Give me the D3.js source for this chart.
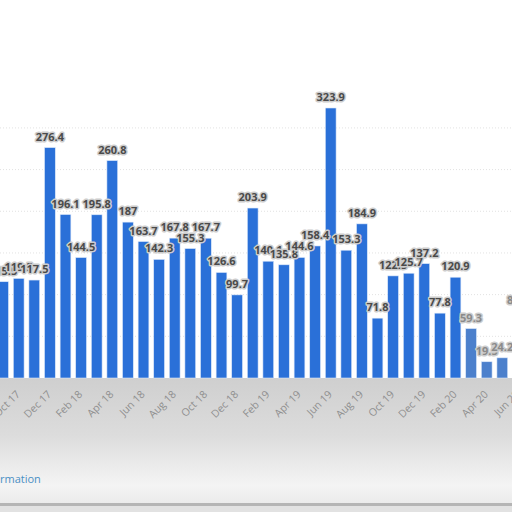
<!DOCTYPE html>
<html lang="en">
<head>
  <meta charset="UTF-8">
  <title>Monthly bar chart</title>
  <script src="https://d3js.org/d3.v7.min.js"></script>
  <style>
    html, body { margin: 0; padding: 0; background: #fff; overflow: hidden; }
    #chart { width: 512px; height: 512px; }
    text { font-family: "Open Sans", "DejaVu Sans", sans-serif; }
  </style>
</head>
<body>
  <div id="chart"></div>
  <script>
    // months shown (chart is cropped at both ends)
    const months = ["Sep 17", "Oct 17", "Nov 17", "Dec 17", "Jan 18", "Feb 18", "Mar 18", "Apr 18",
      "May 18", "Jun 18", "Jul 18", "Aug 18", "Sep 18", "Oct 18", "Nov 18", "Dec 18",
      "Jan 19", "Feb 19", "Mar 19", "Apr 19", "May 19", "Jun 19", "Jul 19", "Aug 19",
      "Sep 19", "Oct 19", "Nov 19", "Dec 19", "Jan 20", "Feb 20", "Mar 20", "Apr 20",
      "May 20", "Jun 20"];
    const values = [115.5, 119.5, 117.5, 276.4, 196.1, 144.5, 195.8, 260.8,
      187, 163.7, 142.3, 167.8, 155.3, 167.7, 126.6, 99.7,
      203.9, 140.1, 135.8, 144.6, 158.4, 323.9, 153.3, 184.9,
      71.8, 122.5, 125.7, 137.2, 77.8, 120.9, 59.3, 19.5,
      24.2, 80.6];
    const tickMonths = months.filter((m, i) => i % 2 === 1);
    const gridValues = [50, 100, 150, 200, 250, 300];

    const width = 512;
    const height = 512;
    const baseY = 378;

    const svg = d3.select("#chart").append("svg")
      .attr("width", width).attr("height", height);

    const defs = svg.append("defs");
    const grad = defs.append("linearGradient")
      .attr("id", "floor").attr("x1", 0).attr("y1", 0).attr("x2", 0).attr("y2", 1);
    grad.append("stop").attr("offset", "0%").attr("stop-color", "#cfcfcf");
    grad.append("stop").attr("offset", "45%").attr("stop-color", "#dcdcdc");
    grad.append("stop").attr("offset", "85%").attr("stop-color", "#f4f4f4");
    grad.append("stop").attr("offset", "100%").attr("stop-color", "#ebebeb");

    // grey area under the plot
    svg.append("rect")
      .attr("x", 0).attr("y", baseY)
      .attr("width", width).attr("height", 126)
      .attr("fill", "url(#floor)");
    svg.append("rect")
      .attr("x", 0).attr("y", 503)
      .attr("width", width).attr("height", 3)
      .attr("fill", "#b5b5b5");
    svg.append("rect")
      .attr("x", 0).attr("y", 506)
      .attr("width", width).attr("height", 6)
      .attr("fill", "#e2e2e2");

    const step = 15.6;
    const x = d3.scaleBand()
      .domain(months)
      .range([-4.7, -4.7 + months.length * step])
      .paddingInner(0.31)
      .paddingOuter(0.155);

    const y = d3.scaleLinear()
      .domain([0, 350])
      .range([baseY, baseY - 350 * 0.8336]);

    // dotted gridlines, very faint
    svg.append("g")
      .selectAll("line")
      .data(gridValues)
      .join("line")
      .attr("x1", 0).attr("x2", width)
      .attr("y1", d => y(d)).attr("y2", d => y(d))
      .attr("stroke", "#e2e2e2")
      .attr("stroke-dasharray", "1,2");

    // bars
    svg.append("g")
      .selectAll("rect")
      .data(values)
      .join("rect")
      .attr("x", (d, i) => x(months[i]))
      .attr("y", d => y(d))
      .attr("width", x.bandwidth())
      .attr("height", d => baseY - y(d))
      .attr("fill", (d, i) => i >= 30 ? "#4c80cc" : "#2a70d8")
      .attr("stroke", "#dbe8fa")
      .attr("stroke-width", 0.6);

    // value labels
    svg.append("g")
      .selectAll("text")
      .data(values)
      .join("text")
      .attr("x", (d, i) => x(months[i]) + x.bandwidth() / 2)
      .attr("y", d => y(d) - 7)
      .attr("text-anchor", "middle")
      .attr("font-size", 11)
      .attr("font-weight", "bold")
      .attr("fill", (d, i) => i >= 30 ? "#8a8a8a" : "#4a4a4a")
      .attr("stroke", "#cdcdcd")
      .attr("stroke-width", 3)
      .attr("stroke-linejoin", "round")
      .attr("paint-order", "stroke")
      .text(d => d);

    // x axis labels, every second month
    const xAxis = d3.axisBottom(x).tickValues(tickMonths).tickSize(0).tickPadding(0);
    const gx = svg.append("g")
      .attr("transform", `translate(0,${baseY})`)
      .call(xAxis);
    gx.select(".domain").remove();
    gx.selectAll("text")
      .attr("font-size", 10.5)
      .attr("fill", "#8f8f8f")
      .attr("text-anchor", "end")
      .attr("dy", null)
      .attr("transform", "translate(2,17) rotate(-45)");

    // cropped footer link
    svg.append("text")
      .attr("x", 0).attr("y", 483)
      .attr("font-size", 11)
      .attr("fill", "#4a8fc4")
      .text("rmation");
  </script>
</body>
</html>
